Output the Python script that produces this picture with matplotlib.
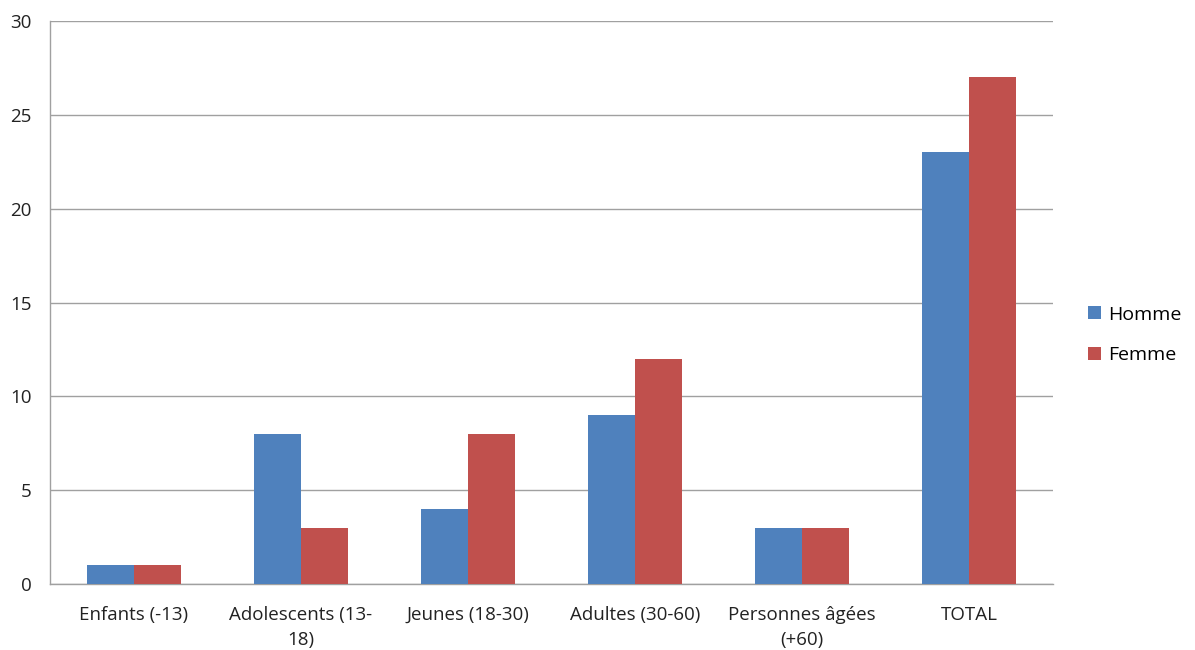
import matplotlib
matplotlib.use("Agg")
import matplotlib.pyplot as plt
import numpy as np

categories = ["Enfants (-13)", "Adolescents (13-\n18)", "Jeunes (18-30)",
              "Adultes (30-60)", "Personnes âgées\n(+60)", "TOTAL"]
homme = [1, 8, 4, 9, 3, 23]
femme = [1, 3, 8, 12, 3, 27]
series_names = ["Homme", "Femme"]
yticks = [0, 5, 10, 15, 20, 25, 30]

plt.rcParams["font.family"] = ["Open Sans", "DejaVu Sans"]

fig = plt.figure(figsize=(11.95, 6.5), dpi=100)
ax = fig.add_axes([0.0418, 0.1015, 0.8394, 0.8662])

x = np.arange(len(categories))
w = 0.281
ax.bar(x - w / 2, homme, width=w, color="#4F81BD", label=series_names[0], zorder=3)
ax.bar(x + w / 2, femme, width=w, color="#C0504D", label=series_names[1], zorder=3)

ax.set_xlim(-0.5, len(categories) - 0.5)
ax.set_ylim(0, 30)
ax.set_yticks(yticks)
ax.set_xticks(x)
ax.set_xticklabels(categories, fontsize=13.5, color="#222222", linespacing=1.45)
ax.tick_params(axis="y", labelsize=13.5, colors="#222222", length=0, pad=13)
ax.tick_params(axis="x", length=0, pad=16)

ax.grid(axis="y", color="#A0A0A0", linewidth=1.0, zorder=0)
for side in ["top", "right"]:
    ax.spines[side].set_visible(False)
for side in ["left", "bottom"]:
    ax.spines[side].set_color("#A0A0A0")
    ax.spines[side].set_linewidth(1.0)

leg = fig.legend(loc="center left", bbox_to_anchor=(0.9105, 0.485), frameon=False,
                 fontsize=14, handlelength=0.65, handleheight=0.65,
                 handletextpad=0.4, labelspacing=1.15,
                 borderpad=0, borderaxespad=0)

fig.savefig("out.png", dpi=100)
